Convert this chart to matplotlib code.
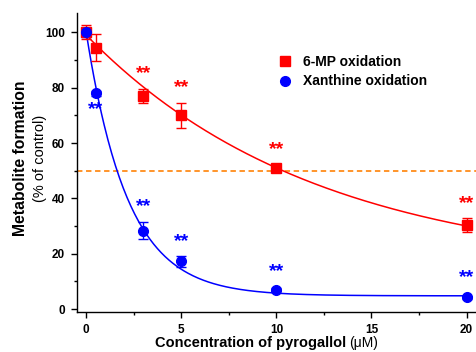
import numpy as np
import matplotlib.pyplot as plt
from matplotlib.lines import Line2D
from matplotlib.ticker import MultipleLocator

plt.rcParams['font.family'] = ['Liberation Sans', 'DejaVu Sans']

# ----------- DATA -----------
conc = [0, 0.5, 3, 5, 10, 20]
mp_vals = [100, 94.5, 77, 70, 51, 30.5]
mp_err = [2.5, 5, 2.5, 4.5, 1, 2.5]
xan_vals = [100, 78, 28.3, 17.3, 7, 4.3]
xan_err = [1.5, 1, 3, 2, 0.5, 0.5]

# exponential decay fit parameters (y0, A, t)
mp_fit = (13.7, 85.3, 12.1)
xan_fit = (4.8, 95.0, 2.18)

# significance marks: label positions
mp_sig_x = [3, 5, 10, 20]
mp_sig_y = [85, 80, 57.5, 38]
xan_sig_x = [0.5, 3, 5, 10, 20]
xan_sig_y = [72, 37, 24.5, 13.5, 11.5]

RED = '#ff0000'
BLUE = '#0000ff'
ORANGE = '#ff8c1a'

fig = plt.figure(figsize=(4.77, 3.52), dpi=100)
ax = fig.add_axes([0.161, 0.114, 0.837, 0.849])

xs = np.linspace(0, 20, 300)
for (y0, a, t), c in [(mp_fit, RED), (xan_fit, BLUE)]:
    ax.plot(xs, y0 + a * np.exp(-xs / t), color=c, lw=1.1, zorder=2)

ax.axhline(50, color=ORANGE, ls=(0, (3, 2)), lw=1.3, zorder=1)

ax.errorbar(conc, mp_vals, yerr=mp_err, fmt='s', color=RED, ms=6.5,
            capsize=3.5, elinewidth=1, capthick=1, zorder=3)
ax.errorbar(conc, xan_vals, yerr=xan_err, fmt='o', color=BLUE, ms=7,
            capsize=3.5, elinewidth=1, capthick=1, zorder=3)

for x, y in zip(mp_sig_x, mp_sig_y):
    ax.text(x, y, '**', color=RED, fontsize=14, fontweight='bold', ha='center', va='center')
for x, y in zip(xan_sig_x, xan_sig_y):
    ax.text(x, y, '**', color=BLUE, fontsize=14, fontweight='bold', ha='center', va='center')

ax.set_xlim(-0.5, 20.5)
ax.set_ylim(-1, 107)
ax.xaxis.set_major_locator(MultipleLocator(5))
ax.xaxis.set_minor_locator(MultipleLocator(2.5))
ax.yaxis.set_major_locator(MultipleLocator(20))
ax.yaxis.set_minor_locator(MultipleLocator(10))
ax.tick_params(which='major', length=4.5, width=1, labelsize=8.5, pad=4)
ax.tick_params(which='minor', length=2.5, width=1)
for lab in ax.get_xticklabels() + ax.get_yticklabels():
    lab.set_fontweight('bold')
for s in ['top', 'right']:
    ax.spines[s].set_visible(False)
for s in ['left', 'bottom']:
    ax.spines[s].set_linewidth(1)

# axis titles
fig.text(0.725, 0.026, 'Concentration of pyrogallol', fontsize=10.5,
         fontweight='bold', ha='right', va='center')
fig.text(0.731, 0.026, '(\u03bcM)', fontsize=10, ha='left', va='center')
fig.text(0.042, 0.551, 'Metabolite formation', rotation=90, fontsize=11.3,
         fontweight='bold', ha='center', va='center')
fig.text(0.084, 0.551, '(% of control)', rotation=90, fontsize=10.5,
         ha='center', va='center')

handles = [Line2D([], [], ls='none', marker='s', color=RED, ms=6.5),
           Line2D([], [], ls='none', marker='o', color=BLUE, ms=7)]
leg = ax.legend(handles, ['6-MP oxidation', 'Xanthine oxidation'],
                loc='upper left', bbox_to_anchor=(0.473, 0.902), frameon=False,
                fontsize=10, handletextpad=0.8, labelspacing=0.4, handlelength=1)
for t in leg.get_texts():
    t.set_fontweight('bold')

fig.savefig('out.png', dpi=100)
